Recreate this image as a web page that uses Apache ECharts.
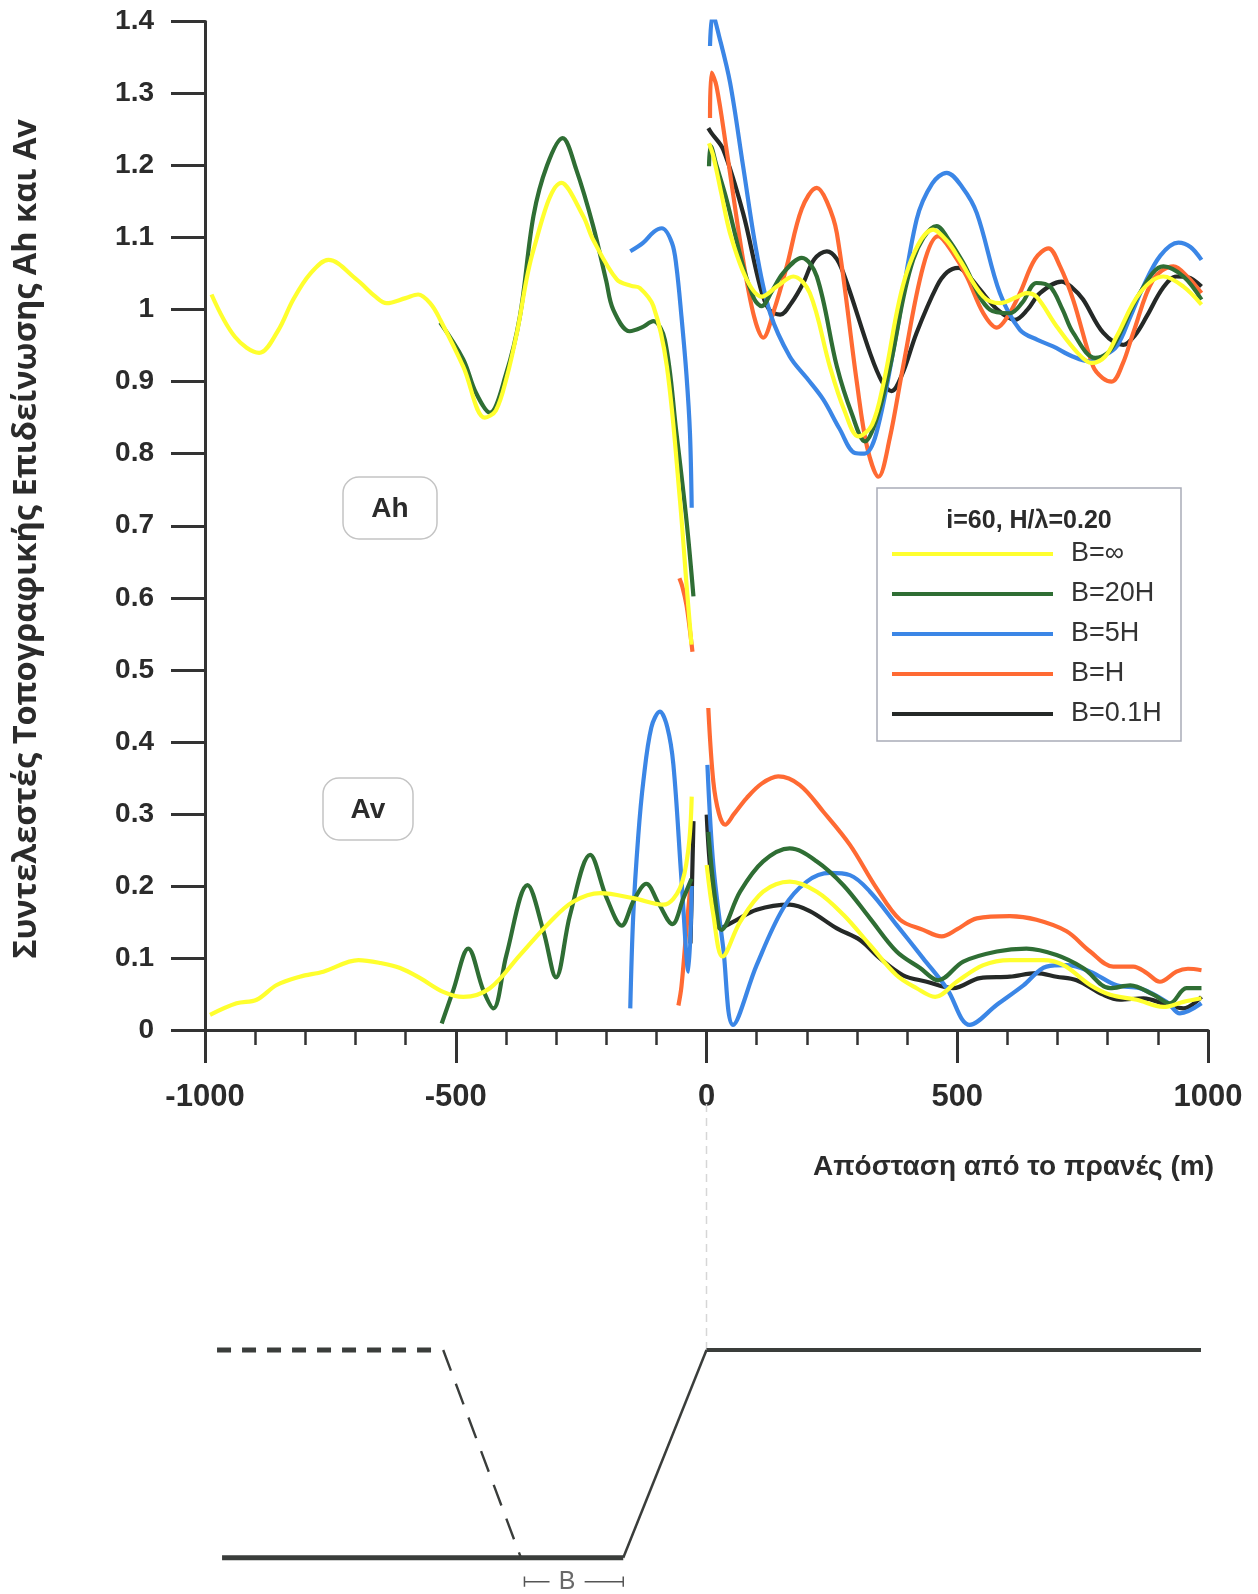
<!DOCTYPE html>
<html>
<head>
<meta charset="utf-8">
<script src="https://cdn.jsdelivr.net/npm/echarts@6/dist/echarts.min.js"></script>
<style>html,body{margin:0;padding:0;background:#fff}#c{width:1258px;height:1594px}</style>
</head>
<body>
<div id="c"></div>
<script>
// ---- axis ticks ----
const xTicks = [-1000, -500, 0, 500, 1000];
const yTickLabels = ['0','0.1','0.2','0.3','0.4','0.5','0.6','0.7','0.8','0.9','1','1.1','1.2','1.3','1.4'];
const seriesNames = ['B=∞', 'B=20H', 'B=5H', 'B=H', 'B=0.1H'];

// ---- B = infinity (yellow) ----
const ahInfLeft = [[-987,1.021],[-940,0.962],[-892,0.940],[-855,0.97],[-824,1.014],[-790,1.05],[-754,1.069],[-698,1.042],[-660,1.018],[-638,1.009],[-600,1.016],[-575,1.021],[-550,1.008],[-531,0.986],[-485,0.921],[-442,0.850],[-420,0.86],[-398,0.907],[-378,0.968],[-345,1.083],[-289,1.176],[-246,1.130],[-226,1.097],[-179,1.042],[-150,1.033],[-133,1.030],[-106,1.005],[-79,0.921],[-53,0.736],[-40,0.62],[-30,0.535]];
const ahInfRight = [[5,1.231],[13.6,1.213],[30,1.16],[47,1.106],[80,1.042],[110,1.018],[140,1.032],[173,1.046],[206,1.023],[246,0.921],[275,0.86],[303,0.824],[330,0.84],[353,0.898],[399,1.051],[452,1.111],[480,1.095],[505,1.069],[552,1.018],[585,1.009],[620,1.018],[638,1.023],[658,1.018],[698,0.977],[740,0.94],[768,0.926],[795,0.935],[818,0.963],[864,1.023],[911,1.046],[951,1.032],[987,1.007]];
const avInfLeft = [[-990,0.021],[-937,0.037],[-897,0.042],[-857,0.0625],[-811,0.074],[-764,0.081],[-694,0.097],[-650,0.093],[-611,0.086],[-571,0.072],[-525,0.053],[-485,0.046],[-432,0.058],[-372,0.104],[-312,0.150],[-266,0.178],[-212,0.190],[-146,0.183],[-86,0.174],[-53,0.197],[-36,0.252],[-29.5,0.324]];
const avInfRight = [[0.4,0.229],[13.6,0.160],[32,0.102],[67,0.150],[113,0.192],[166,0.206],[220,0.192],[273,0.160],[326,0.118],[379,0.076],[419,0.058],[456,0.046],[499,0.067],[552,0.090],[605,0.097],[672,0.097],[712,0.090],[765,0.0625],[805,0.049],[858,0.042],[911,0.032],[951,0.039],[987,0.044]];

// ---- B = 20H (green) ----
const ah20Left = [[-531,0.982],[-485,0.931],[-460,0.885],[-432,0.857],[-400,0.91],[-372,0.991],[-345,1.13],[-318,1.20],[-287,1.238],[-260,1.195],[-226,1.116],[-200,1.04],[-186,1.000],[-153,0.970],[-130,0.975],[-106,0.984],[-83,0.958],[-60,0.829],[-40,0.708],[-26,0.602]];
const ah20Right = [[5,1.199],[8.4,1.227],[20,1.2],[40,1.153],[73,1.060],[95,1.015],[110,1.005],[130,1.025],[153,1.051],[190,1.072],[220,1.046],[260,0.921],[290,0.855],[316,0.817],[340,0.85],[366,0.921],[412,1.069],[459,1.116],[485,1.095],[512,1.065],[565,1.000],[605,0.995],[630,1.01],[658,1.037],[685,1.032],[710,1.0],[731,0.968],[775,0.933],[800,0.94],[818,0.958],[864,1.023],[911,1.060],[951,1.046],[987,1.014]];
const av20Left = [[-528,0.009],[-505,0.055],[-475,0.113],[-445,0.055],[-425,0.030],[-399,0.104],[-357,0.201],[-325,0.137],[-300,0.073],[-272,0.160],[-232,0.243],[-199,0.183],[-169,0.145],[-145,0.18],[-120,0.203],[-95,0.175],[-68,0.147],[-46,0.183],[-30,0.21]];
const av20Right = [[3.6,0.275],[17,0.183],[30,0.139],[67,0.192],[113,0.234],[166,0.252],[220,0.234],[273,0.201],[326,0.155],[379,0.109],[426,0.086],[462,0.069],[512,0.095],[579,0.109],[638,0.113],[698,0.104],[751,0.086],[805,0.058],[845,0.062],[891,0.049],[924,0.037],[957,0.058],[987,0.058]];

// ---- B = 5H (blue) ----
const ah5Left = [[-152,1.081],[-126,1.093],[-105,1.108],[-89,1.113],[-69,1.093],[-60,1.06],[-50,0.991],[-40,0.91],[-33,0.829],[-29.5,0.725]];
const ah5Right = [[7,1.366],[12.4,1.410],[25,1.38],[47,1.315],[73,1.199],[100,1.079],[127,0.995],[166,0.935],[200,0.905],[233,0.875],[265,0.835],[296,0.801],[315,0.80],[339,0.829],[379,0.968],[419,1.125],[450,1.175],[479,1.190],[510,1.17],[539,1.134],[585,1.023],[625,0.972],[660,0.958],[691,0.949],[730,0.935],[765,0.928],[790,0.935],[818,0.949],[845,0.99],[871,1.032],[905,1.075],[941,1.093],[965,1.087],[987,1.069]];
const av5Left = [[-152,0.030],[-146,0.160],[-136,0.27],[-126,0.345],[-110,0.42],[-93,0.442],[-78,0.42],[-66,0.368],[-50,0.210],[-36,0.081],[-29.5,0.2]];
const av5Right = [[1.8,0.368],[13.6,0.229],[33.5,0.113],[53,0.007],[100,0.090],[153,0.169],[200,0.206],[246,0.218],[286,0.215],[326,0.192],[379,0.146],[432,0.0995],[479,0.058],[525,0.007],[579,0.035],[632,0.062],[678,0.088],[718,0.090],[765,0.081],[818,0.062],[864,0.058],[918,0.039],[944,0.023],[987,0.037]];

// ---- B = H (orange) ----
const ah1Left = [[-54,0.627],[-48,0.615],[-40,0.59],[-34,0.56],[-28,0.525]];
const ah1Right = [[7,1.266],[10,1.329],[20,1.31],[40,1.222],[73,1.069],[95,0.99],[113,0.961],[135,1.0],[160,1.060],[190,1.14],[220,1.169],[240,1.15],[260,1.106],[300,0.898],[320,0.81],[343,0.768],[365,0.82],[392,0.921],[432,1.060],[462,1.102],[490,1.08],[519,1.046],[552,0.995],[579,0.975],[600,0.99],[625,1.023],[655,1.07],[682,1.085],[705,1.06],[731,1.014],[771,0.921],[790,0.905],[808,0.900],[830,0.925],[851,0.968],[891,1.042],[931,1.060],[960,1.045],[987,1.023]];
const av1Left = [[-56,0.034],[-50,0.06],[-40,0.14],[-32,0.2]];
const av1Right = [[3.6,0.447],[13.6,0.345],[25,0.3],[37,0.285],[55,0.3],[80,0.322],[110,0.342],[143,0.352],[186,0.340],[233,0.303],[286,0.257],[339,0.197],[386,0.153],[432,0.139],[469,0.130],[500,0.14],[539,0.155],[605,0.158],[658,0.153],[718,0.137],[765,0.109],[811,0.088],[851,0.088],[878,0.079],[904,0.067],[937,0.081],[960,0.085],[987,0.083]];

// ---- B = 0.1H (black) ----
const ah01Right = [[3.6,1.252],[10,1.245],[33.5,1.222],[73,1.134],[107,1.032],[125,1.0],[147,0.993],[170,1.01],[193,1.037],[215,1.07],[240,1.081],[260,1.07],[280,1.037],[326,0.940],[350,0.90],[369,0.887],[390,0.91],[419,0.968],[459,1.032],[480,1.052],[502,1.058],[525,1.045],[545,1.028],[580,1.0],[615,0.986],[640,1.0],[665,1.023],[708,1.039],[730,1.03],[751,1.014],[791,0.968],[831,0.951],[855,0.965],[878,0.991],[910,1.03],[937,1.046],[960,1.045],[987,1.032]];
const av01Left = [[-32,0.12],[-29,0.2],[-26,0.29]];
const av01Right = [[0.4,0.299],[10,0.206],[27,0.141],[53,0.150],[100,0.167],[166,0.174],[206,0.165],[260,0.141],[306,0.125],[346,0.0995],[392,0.076],[439,0.067],[492,0.058],[545,0.072],[605,0.074],[658,0.079],[698,0.074],[738,0.069],[791,0.049],[824,0.042],[871,0.044],[918,0.035],[951,0.030],[987,0.046]];

// ---- slope profile sketch (same x scale, relative height 0..1) ----
const profileDashTop = [[-976,1],[-545,1]];
const profileDashSlope = [[-525,1],[-370,0]];
const profileBottom = [[-966,0],[-166,0]];
const profileSlope = [[-166,0],[0,1]];
const profileTop = [[0,1],[986,1]];
const guideLine = [[0,1],[0,2.2]];
const bDimLeft = [[-363,-0.1155],[-313,-0.1155]];
const bDimRight = [[-243,-0.1155],[-166,-0.1155]];
const bTickLeft = [[-363,-0.09],[-363,-0.14]];
const bTickRight = [[-166,-0.09],[-166,-0.14]];
const bLabel = [[-278,-0.1155]];

const colors = {'B=∞':'#ffff2e','B=20H':'#2f6e34','B=5H':'#3b86e6','B=H':'#ff6a33','B=0.1H':'#252927'};
const groups = [
  ['B=0.1H', [ah01Right, av01Left, av01Right]],
  ['B=H', [ah1Left, ah1Right, av1Left, av1Right]],
  ['B=5H', [ah5Left, ah5Right, av5Left, av5Right]],
  ['B=20H', [ah20Left, ah20Right, av20Left, av20Right]],
  ['B=∞', [ahInfLeft, ahInfRight, avInfLeft, avInfRight]]
];

const series = [];
groups.forEach(([name, segs]) => {
  segs.forEach(seg => {
    series.push({
      type:'line', name, data: seg, xAxisIndex:0, yAxisIndex:0,
      smooth:0.35, symbol:'none', showSymbol:false,
      lineStyle:{color:colors[name], width:4.2},
      itemStyle:{color:colors[name]},
      silent:true, clip:true
    });
  });
});

function profLine(data, width, dash, color) {
  return {type:'line', data, xAxisIndex:1, yAxisIndex:1, symbol:'none', silent:true,
    lineStyle:{color: color || '#3a3d3b', width, type: dash || 'solid'}, itemStyle:{color: color || '#3a3d3b'}};
}
series.push(profLine(guideLine, 1.5, [8,6], '#d6d6d6'));
series.push(profLine(profileDashTop, 5, [14,11]));
series.push(profLine(profileDashSlope, 2.4, [22,14]));
series.push(profLine(profileBottom, 5));
series.push(profLine(profileSlope, 2.5));
series.push(profLine(profileTop, 4));
series.push(profLine(bDimLeft, 1.5, null, '#555'));
series.push(profLine(bDimRight, 1.5, null, '#555'));
series.push(profLine(bTickLeft, 1.5, null, '#555'));
series.push(profLine(bTickRight, 1.5, null, '#555'));
series.push({type:'scatter', data:bLabel, xAxisIndex:1, yAxisIndex:1, symbolSize:0, silent:true,
  label:{show:true, position:'inside', formatter:'B', fontSize:25, color:'#444', fontFamily:'Liberation Sans'}});

const axisColor = '#333';
const option = {
  animation:false,
  backgroundColor:'#fff',
  grid:[
    {left:205, right:50, top:21.5, bottom:564},
    {left:205, right:50, top:1090.4, bottom:5.1}
  ],
  xAxis:[
    {type:'value', gridIndex:0, min:xTicks[0], max:xTicks[xTicks.length-1], interval:500,
     axisLine:{show:true, onZero:false, lineStyle:{color:axisColor, width:3}},
     axisTick:{show:true, length:33, lineStyle:{color:axisColor, width:3}},
     minorTick:{show:true, splitNumber:5, length:15, lineStyle:{color:axisColor, width:2.5}},
     splitLine:{show:false}, minorSplitLine:{show:false},
     axisLabel:{show:true, margin:52, fontSize:31, fontWeight:'bold', color:'#2b2b2b', fontFamily:'Liberation Sans',
       showMinLabel:true, showMaxLabel:true, formatter:(v)=> String(v)}},
    {type:'value', gridIndex:1, min:-1000, max:1000, show:false}
  ],
  yAxis:[
    {type:'value', gridIndex:0, min:0, max:1.4, interval:0.1,
     axisLine:{show:true, onZero:false, lineStyle:{color:axisColor, width:3}},
     axisTick:{show:true, length:34, lineStyle:{color:axisColor, width:3}},
     splitLine:{show:false},
     axisLabel:{margin:51, fontSize:28, fontWeight:'bold', color:'#2b2b2b', fontFamily:'Liberation Sans',
       formatter:(v)=> yTickLabels[Math.round(v*10)]}},
    {type:'value', gridIndex:1, min:-0.15, max:2.25, show:false}
  ],
  legend:{
    data:seriesNames, orient:'vertical', left:892, top:539, padding:0,
    itemWidth:161, itemHeight:4, itemGap:10, icon:'rect', selectedMode:false, z:10,
    textStyle:{fontSize:27, lineHeight:30, color:'#333', fontFamily:'Liberation Sans', padding:[0,0,0,13]}
  },
  graphic:[
    {type:'rect', z:1, shape:{x:877, y:488, width:304, height:253}, style:{fill:'#fff', stroke:'#a9acb8', lineWidth:1.5}},
    {type:'text', z:2, x:1029, y:521, style:{text:'i=60, H/λ=0.20', font:'bold 25px "Liberation Sans"', fill:'#2b2b2b', align:'center', verticalAlign:'middle'}},
    {type:'rect', z:1, shape:{x:343, y:477, width:94, height:62, r:16}, style:{fill:'#fff', stroke:'#c4c4c4', lineWidth:1.5}},
    {type:'text', z:2, x:390, y:509, style:{text:'Ah', font:'bold 28px "Liberation Sans"', fill:'#2b2b2b', align:'center', verticalAlign:'middle'}},
    {type:'rect', z:1, shape:{x:323, y:778, width:90, height:62, r:16}, style:{fill:'#fff', stroke:'#c4c4c4', lineWidth:1.5}},
    {type:'text', z:2, x:368, y:810, style:{text:'Av', font:'bold 28px "Liberation Sans"', fill:'#2b2b2b', align:'center', verticalAlign:'middle'}},
    {type:'text', z:2, x:27, y:539, rotation:Math.PI/2, style:{text:'Συντελεστές Τοπογραφικής Επιδείνωσης Ah και Av', font:'bold 32.5px "Open Sans"', fill:'#2b2b2b', align:'center', verticalAlign:'middle'}},
    {type:'text', z:2, x:1214, y:1167, style:{text:'Απόσταση από το πρανές (m)', font:'bold 28px "Liberation Sans"', fill:'#2b2b2b', align:'right', verticalAlign:'middle'}}
  ],
  series
};
const chart = echarts.init(document.getElementById('c'), null, {renderer:'canvas'});
chart.setOption(option);
</script>
</body>
</html>
